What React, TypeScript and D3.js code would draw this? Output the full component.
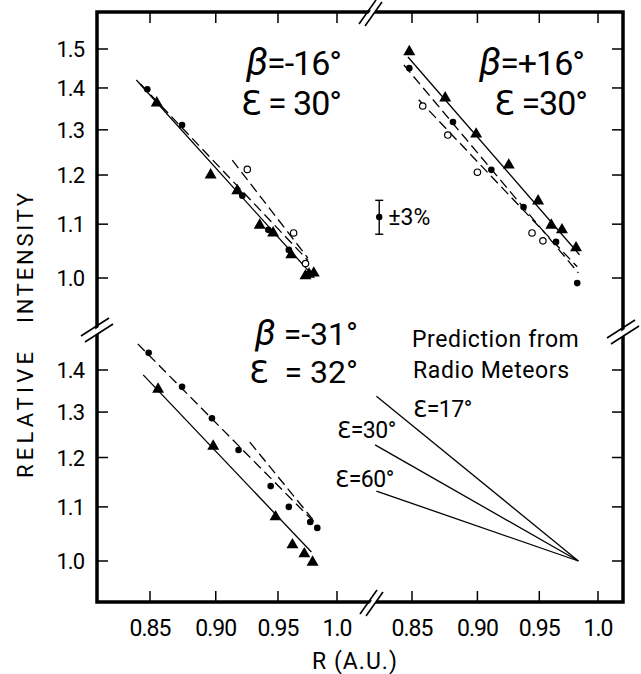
import React from "react";
import * as d3 from "d3";

// tick values and labels
const xTicks = [0.85, 0.9, 0.95, 1.0];
const xTickLabels = ["0.85", "0.90", "0.95", "1.0"];
const yTicksTop = [1.0, 1.1, 1.2, 1.3, 1.4, 1.5];
const yTicksBottom = [1.0, 1.1, 1.2, 1.3, 1.4];

// panel A : beta = -16, eps = 30  (R, relative intensity)
const aDots = [[0.848, 1.397], [0.874, 1.311], [0.921, 1.157], [0.942, 1.089], [0.959, 1.051]];
const aTriangles = [[0.855, 1.361], [0.896, 1.198], [0.917, 1.165], [0.935, 1.096], [0.946, 1.081],
  [0.961, 1.04], [0.973, 1.002], [0.976, 1.005], [0.98, 1.007]];
const aOpen = [[0.925, 1.212], [0.963, 1.083], [0.973, 1.026]];
const aSolid = [[0.84, 1.42], [0.975, 1.014]];
const aDashLong = [[0.843, 1.41], [0.975, 1.032]];
const aDashShort = [[0.913, 1.232], [0.975, 1.036]];

// panel B : beta = +16, eps = 30
const bTriangles = [[0.848, 1.49], [0.875, 1.373], [0.899, 1.288], [0.925, 1.219], [0.949, 1.144],
  [0.96, 1.096], [0.969, 1.087], [0.981, 1.053]];
const bDots = [[0.848, 1.45], [0.881, 1.318], [0.911, 1.211], [0.937, 1.134], [0.964, 1.066], [0.982, 0.991]];
const bOpen = [[0.858, 1.356], [0.877, 1.288], [0.9, 1.206], [0.944, 1.083], [0.953, 1.068]];
const bSolid = [[0.847, 1.479], [0.984, 1.042]];
const bDashDots = [[0.844, 1.458], [0.983, 1.009]];
const bDashOpen = [[0.855, 1.371], [0.982, 1.02]];

// panel C : beta = -31, eps = 32
const cDots = [[0.849, 1.443], [0.874, 1.359], [0.897, 1.286], [0.918, 1.216], [0.944, 1.141],
  [0.959, 1.1], [0.977, 1.071], [0.983, 1.06]];
const cTriangles = [[0.856, 1.351], [0.898, 1.222], [0.948, 1.079], [0.962, 1.027], [0.972, 1.011], [0.979, 0.996]];
const cDashLong = [[0.841, 1.466], [0.983, 1.065]];
const cDashShort = [[0.927, 1.233], [0.981, 1.071]];
const cSolid = [[0.845, 1.388], [0.978, 1.016]];

// prediction from radio meteors
const predEps = ["17", "30", "60"];
const pred17 = [[0.824, 1.337], [0.983, 1.0]];
const pred30 = [[0.823, 1.227], [0.983, 1.0]];
const pred60 = [[0.824, 1.131], [0.983, 1.0]];

// error bar (+-3%)
const errR = 0.826;
const errI = 1.114;
const errPct = 0.03;

const FONT = "Roboto, 'DejaVu Sans', sans-serif";

export default function App() {
  const W = 641, H = 674;
  const frame = { left: 97, right: 623, top: 12, bottom: 602 };
  const breakY = 328;
  const breakX = 368;

  const xL = d3.scaleLog().domain([0.85, 1.0]).range([150, 337]);
  const xR = d3.scaleLog().domain([0.85, 1.0]).range([412, 598]);
  const yT = d3.scaleLog().domain([1.0, 1.5]).range([278, 49]);
  const yB = d3.scaleLog().domain([1.0, 1.4]).range([561, 370]);

  const mkLine = (x: any, y: any) => d3.line<number[]>().x(d => x(d[0])).y(d => y(d[1]));
  const tri = d3.symbol().type(d3.symbolTriangle).size(62)() as string;

  const dots = (data: number[][], x: any, y: any, key: string) =>
    data.map((d, i) => <circle key={key + i} cx={x(d[0])} cy={y(d[1])} r={3.3} fill="#000" />);
  const opens = (data: number[][], x: any, y: any, key: string) =>
    data.map((d, i) => <circle key={key + i} cx={x(d[0])} cy={y(d[1])} r={3.2} fill="#fff" stroke="#000" strokeWidth={1.2} />);
  const tris = (data: number[][], x: any, y: any, key: string) =>
    data.map((d, i) => <path key={key + i} d={tri} transform={`translate(${x(d[0])},${y(d[1]) - 1})`} fill="#000" />);
  const line = (data: number[][], x: any, y: any, dashed: boolean, key: string) =>
    <path key={key} d={mkLine(x, y)(data) as string} fill="none" stroke="#000" strokeWidth={1.3}
      strokeDasharray={dashed ? "10,5" : undefined} />;

  const tick = 11;

  // axis break marks
  const hBreak = (cx: number, cy: number, key: string) => (
    <g key={key}>
      <polygon points={`${cx - 14},${cy + 10} ${cx + 12},${cy - 8} ${cx + 14},${cy - 4} ${cx - 12},${cy + 14}`} fill="#fff" />
      <line x1={cx - 16} y1={cy + 8} x2={cx + 12} y2={cy - 10} stroke="#000" strokeWidth={1.6} />
      <line x1={cx - 12} y1={cy + 14} x2={cx + 16} y2={cy - 4} stroke="#000" strokeWidth={1.6} />
    </g>
  );
  const vBreak = (cx: number, cy: number, key: string) => (
    <g key={key}>
      <polygon points={`${cx - 7},${cy + 12} ${cx + 9},${cy - 10} ${cx + 13},${cy - 8} ${cx - 3},${cy + 14}`} fill="#fff" />
      <line x1={cx - 9} y1={cy + 12} x2={cx + 8} y2={cy - 12} stroke="#000" strokeWidth={1.6} />
      <line x1={cx - 3} y1={cy + 14} x2={cx + 14} y2={cy - 10} stroke="#000" strokeWidth={1.6} />
    </g>
  );

  const epsSym = "\u0190";

  return (
    <svg width={W} height={H} style={{ position: "absolute", left: 0, top: 0, background: "#fff" }}
      fontFamily={FONT}>
      <rect x={0} y={0} width={W} height={H} fill="#fff" />

      {/* frame */}
      <rect x={frame.left} y={frame.top} width={frame.right - frame.left} height={frame.bottom - frame.top}
        fill="none" stroke="#000" strokeWidth={3.5} />

      {/* x ticks, top and bottom, both halves */}
      {[xL, xR].map((x, k) => xTicks.map((t, i) => (
        <g key={`xt${k}${i}`}>
          <line x1={x(t)} x2={x(t)} y1={frame.bottom} y2={frame.bottom - tick} stroke="#000" strokeWidth={1.5} />
          <line x1={x(t)} x2={x(t)} y1={frame.top} y2={frame.top + tick} stroke="#000" strokeWidth={1.5} />
          <text x={x(t)} y={636} textAnchor="middle" fontSize={23} letterSpacing={-1}>{xTickLabels[i]}</text>
        </g>
      )))}

      {/* y ticks */}
      {[[yT, yTicksTop], [yB, yTicksBottom]].map(([y, ticks]: any, k) => ticks.map((t: number, i: number) => (
        <g key={`yt${k}${i}`}>
          <line x1={frame.left} x2={frame.left + tick} y1={y(t)} y2={y(t)} stroke="#000" strokeWidth={1.5} />
          <line x1={frame.right} x2={frame.right - tick} y1={y(t)} y2={y(t)} stroke="#000" strokeWidth={1.5} />
          <text x={84} y={y(t) + 8} textAnchor="end" fontSize={22} letterSpacing={-1}>{t.toFixed(1)}</text>
        </g>
      )))}

      {vBreak(breakX, frame.top, "bt")}
      {vBreak(breakX + 1, frame.bottom, "bb")}
      {hBreak(frame.left, breakY, "bl")}
      {hBreak(frame.right, breakY + 2, "br")}

      {/* panel A */}
      {line(aSolid, xL, yT, false, "aS")}
      {line(aDashLong, xL, yT, true, "aDL")}
      {line(aDashShort, xL, yT, true, "aDS")}
      {tris(aTriangles, xL, yT, "aT")}
      {dots(aDots, xL, yT, "aD")}
      {opens(aOpen, xL, yT, "aO")}

      {/* panel B */}
      {line(bSolid, xR, yT, false, "bS")}
      {line(bDashDots, xR, yT, true, "bDD")}
      {line(bDashOpen, xR, yT, true, "bDO")}
      {tris(bTriangles, xR, yT, "bT")}
      {dots(bDots, xR, yT, "bD")}
      {opens(bOpen, xR, yT, "bO")}

      {/* panel C */}
      {line(cSolid, xL, yB, false, "cS")}
      {line(cDashLong, xL, yB, true, "cDL")}
      {line(cDashShort, xL, yB, true, "cDS")}
      {tris(cTriangles, xL, yB, "cT")}
      {dots(cDots, xL, yB, "cD")}

      {/* prediction */}
      {[pred17, pred30, pred60].map((p, i) => line(p, xR, yB, false, "p" + i))}

      {/* error bar */}
      <g>
        <line x1={xR(errR)} x2={xR(errR)} y1={yT(errI * (1 + errPct))} y2={yT(errI * (1 - errPct))} stroke="#000" strokeWidth={1.4} />
        <line x1={xR(errR) - 4} x2={xR(errR) + 4} y1={yT(errI * (1 + errPct))} y2={yT(errI * (1 + errPct))} stroke="#000" strokeWidth={1.4} />
        <line x1={xR(errR) - 4} x2={xR(errR) + 4} y1={yT(errI * (1 - errPct))} y2={yT(errI * (1 - errPct))} stroke="#000" strokeWidth={1.4} />
        <circle cx={xR(errR)} cy={yT(errI)} r={3.2} fill="#000" />
        <text x={xR(errR) + 9} y={yT(errI) + 8} fontSize={23}>±3%</text>
      </g>

      {/* panel labels */}
      <g fontSize={34} textAnchor="end" letterSpacing={-1}>
        <text x={341} y={75}><tspan fontStyle="italic" fontSize={38}>β</tspan>=-16°</text>
        <text x={341} y={115}>{epsSym} = 30°</text>
        <text x={584} y={75}><tspan fontStyle="italic" fontSize={38}>β</tspan>=+16°</text>
        <text x={587} y={115}>{epsSym} =30°</text>
      </g>
      <g fontSize={32} textAnchor="end">
        <text x={358} y={345} style={{ whiteSpace: "pre" }}><tspan fontStyle="italic" fontSize={36}>β</tspan> =-31°</text>
        <text x={358} y={383} style={{ whiteSpace: "pre" }}>{epsSym}  = 32°</text>
      </g>

      <g fontSize={23} letterSpacing={0.6}>
        <text x={412} y={347}>Prediction from</text>
        <text x={413} y={378}>Radio Meteors</text>
      </g>
      <g fontSize={23} letterSpacing={-0.5}>
        <text x={413} y={417}>{epsSym}={predEps[0]}°</text>
        <text x={337} y={438}>{epsSym}={predEps[1]}°</text>
        <text x={335} y={487}>{epsSym}={predEps[2]}°</text>
      </g>

      {/* axis titles */}
      <g fontSize={22} textAnchor="middle">
        <text transform="translate(33,415) rotate(-90)" textLength={126} lengthAdjust="spacing">RELATIVE</text>
        <text transform="translate(33,258) rotate(-90)" textLength={130} lengthAdjust="spacing">INTENSITY</text>
      </g>
      <text x={355} y={669} textAnchor="middle" fontSize={23} letterSpacing={1}>R (A.U.)</text>
    </svg>
  );
}
